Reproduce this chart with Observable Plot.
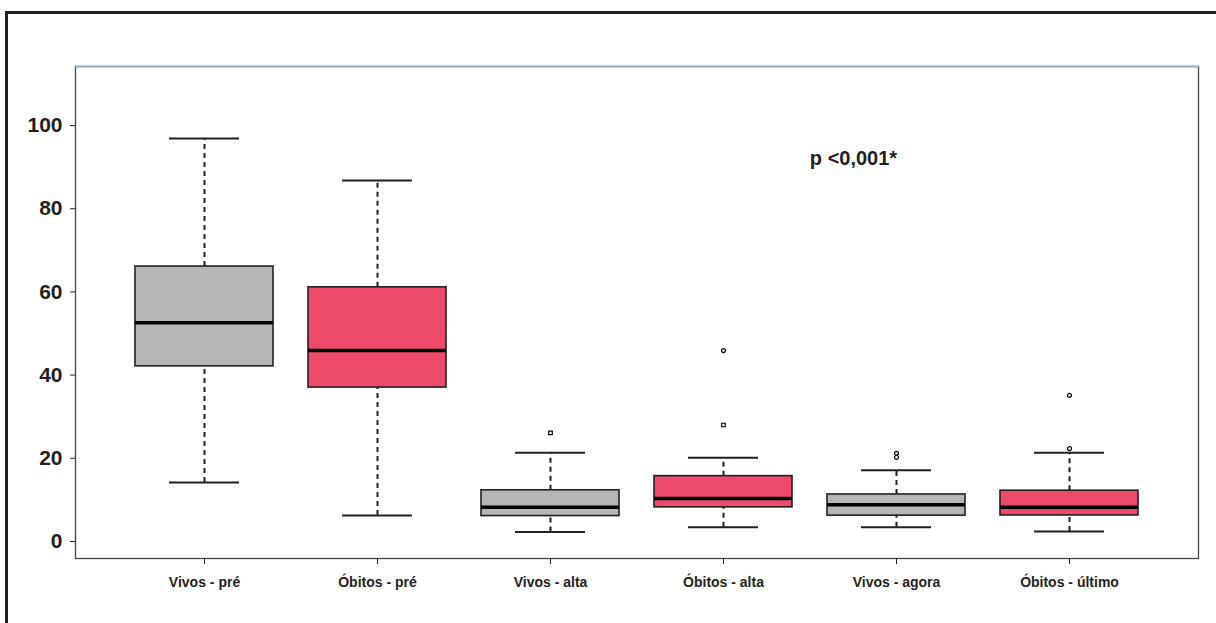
<!DOCTYPE html>
<html><head><meta charset="utf-8">
<script src="https://cdn.jsdelivr.net/npm/d3@7"></script>
<script src="https://cdn.jsdelivr.net/npm/@observablehq/plot@0.6"></script>
<style>
html,body{margin:0;padding:0;background:#fff;overflow:hidden}
#wrap{position:relative;width:1216px;height:623px}
#border{position:absolute;left:5px;top:11px;right:-10px;bottom:-10px;border-top:3px solid #231f20;border-left:3px solid #231f20;pointer-events:none}
</style></head><body><div id="wrap"><div id="chart"></div><div id="border"></div></div>
<script>
const groups = ["Vivos - pré","Óbitos - pré","Vivos - alta","Óbitos - alta","Vivos - agora","Óbitos - último"];
const status = ["Vivos","Óbitos","Vivos","Óbitos","Vivos","Óbitos"];
const whiskerLow  = [14.2, 6.25, 2.3, 3.4, 3.4, 2.4];
const q1          = [42.1, 37.0, 6.1, 8.2, 6.2, 6.25];
const median      = [52.6, 45.9, 8.2, 10.3, 8.8, 8.25];
const q3          = [66.1, 61.1, 12.3, 15.7, 11.3, 12.2];
const whiskerHigh = [96.9, 86.8, 21.3, 20.1, 17.1, 21.3];
const outlierGroup  = ["Vivos - alta","Óbitos - alta","Óbitos - alta","Vivos - agora","Vivos - agora","Óbitos - último","Óbitos - último"];
const outlierValue  = [26.1, 28.0, 45.9, 20.2, 21.2, 22.3, 35.1];
const outlierSymbol = ["square","square","circle","circle","circle","circle","circle"];
const yTicks = [0, 20, 40, 60, 80, 100];
const pLabel = "p <0,001*";
const pGroup = "Vivos - agora";
const pValue = 92;

const statusNames = ["Vivos","Óbitos"];
const statusColors = ["#b5b6b5","#ee4a6b"];

const boxes = groups.map((g, i) => ({group: g, status: status[i], lo: whiskerLow[i], q1: q1[i], med: median[i], q3: q3[i], hi: whiskerHigh[i]}));
const outliers = outlierGroup.map((g, i) => ({group: g, value: outlierValue[i], symbol: outlierSymbol[i]}));

const ink = "#231f20";

const chart = Plot.plot({
  width: 1216,
  height: 623,
  marginLeft: 75,
  marginRight: 18,
  marginTop: 66,
  marginBottom: 65,
  style: {fontFamily: "'Liberation Sans', Arial, sans-serif", color: ink, background: "transparent"},
  x: {domain: groups, padding: 0.2, insetLeft: 25, insetRight: 24, label: null},
  y: {domain: [-4.1, 114.2], label: null},
  color: {domain: statusNames, range: statusColors},
  symbol: {domain: ["square","circle"], range: ["square","circle"]},
  marks: [
    Plot.frame({stroke: "#444", strokeWidth: 1.3}),
    Plot.frame({anchor: "top", stroke: "#8ea8bd", strokeWidth: 1.5}),
    Plot.axisY({ticks: yTicks, tickSize: 5, tickPadding: 8, fontSize: 21, fontWeight: "bold", stroke: ink, fill: ink, label: null}),
    Plot.axisX({tickSize: 6, tickPadding: 13, fontSize: 14, fontWeight: "bold", stroke: ink, fill: ink, label: null}),
    Plot.ruleX(boxes, {x: "group", y1: "q3", y2: "hi", stroke: ink, strokeWidth: 2, strokeDasharray: "5,4"}),
    Plot.ruleX(boxes, {x: "group", y1: "lo", y2: "q1", stroke: ink, strokeWidth: 2, strokeDasharray: "5,4"}),
    Plot.tickY(boxes, {x: "group", y: "hi", stroke: ink, strokeWidth: 2, insetLeft: 34, insetRight: 34}),
    Plot.tickY(boxes, {x: "group", y: "lo", stroke: ink, strokeWidth: 2, insetLeft: 34, insetRight: 34}),
    Plot.barY(boxes, {x: "group", y1: "q1", y2: "q3", fill: "status", stroke: ink, strokeWidth: 1.6}),
    Plot.tickY(boxes, {x: "group", y: "med", stroke: "#000", strokeWidth: 3.5}),
    Plot.dot(outliers, {x: "group", y: "value", symbol: "symbol", r: 2, stroke: "#000", fill: "#fff", strokeWidth: 1.2}),
    Plot.text([pLabel], {x: () => pGroup, y: () => pValue, text: d => d, dx: -43, fontSize: 20, fontWeight: "bold", fill: ink})
  ]
});
document.getElementById("chart").appendChild(chart);
</script>
</body></html>
